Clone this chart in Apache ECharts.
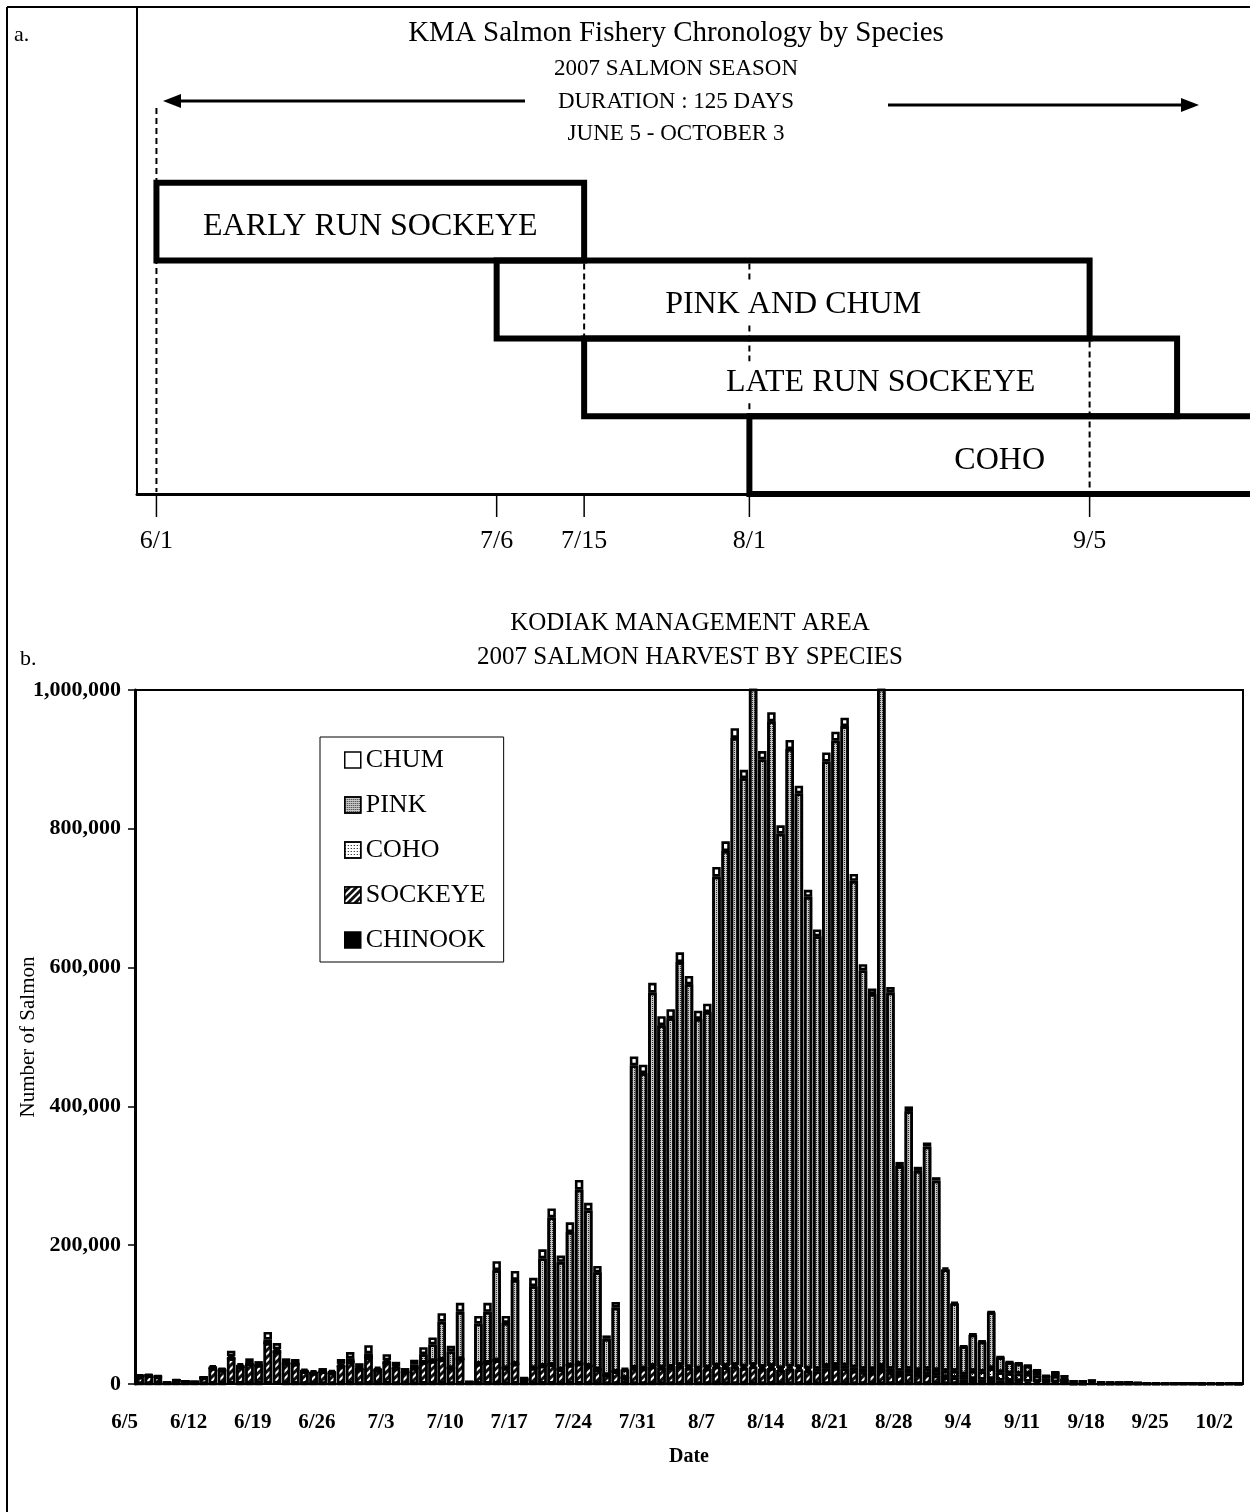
<!DOCTYPE html>
<html><head><meta charset="utf-8">
<script src="https://cdn.jsdelivr.net/npm/echarts@6/dist/echarts.min.js"></script>
<style>html,body{margin:0;padding:0;background:#fff}#c{width:1250px;height:1512px}</style>
</head><body><div id="c"></div>
<script>
// ---------- Panel a: chronology ----------
const chronRows = ['', 'EARLY RUN SOCKEYE', 'PINK AND CHUM', 'LATE RUN SOCKEYE', 'COHO'];
const chronNames = ['EARLY RUN SOCKEYE', 'PINK AND CHUM', 'LATE RUN SOCKEYE', 'COHO'];
const chronStart = ['6/1', '7/6', '7/15', '8/1'];
const chronEnd = ['7/15', '9/5', '9/14', '10/3'];
const chronTicks = ['6/1', '7/6', '7/15', '8/1', '9/5'];
const chronDashDates = ['6/1', '7/15', '8/1', '9/5'];
const chronDashFrom = [0, 2, 2, 3];
const chronDashTo = [4, 2, 3, 4];

// ---------- Panel b: harvest ----------
const dates = [
 '6/5','6/6','6/7','6/8','6/9','6/10','6/11','6/12','6/13','6/14','6/15','6/16','6/17','6/18','6/19','6/20','6/21','6/22','6/23','6/24','6/25','6/26','6/27','6/28','6/29','6/30',
 '7/1','7/2','7/3','7/4','7/5','7/6','7/7','7/8','7/9','7/10','7/11','7/12','7/13','7/14','7/15','7/16','7/17','7/18','7/19','7/20','7/21','7/22','7/23','7/24','7/25','7/26','7/27','7/28','7/29','7/30','7/31',
 '8/1','8/2','8/3','8/4','8/5','8/6','8/7','8/8','8/9','8/10','8/11','8/12','8/13','8/14','8/15','8/16','8/17','8/18','8/19','8/20','8/21','8/22','8/23','8/24','8/25','8/26','8/27','8/28','8/29','8/30','8/31',
 '9/1','9/2','9/3','9/4','9/5','9/6','9/7','9/8','9/9','9/10','9/11','9/12','9/13','9/14','9/15','9/16','9/17','9/18','9/19','9/20','9/21','9/22','9/23','9/24','9/25','9/26','9/27','9/28','9/29','9/30',
 '10/1','10/2','10/3'];
const chinook = [300,300,200,100,200,100,100,300,500,400,
 600,400,500,400,800,600,400,400,300,300,
 300,200,400,400,300,500,200,400,300,200,
 300,400,400,500,300,500,100,400,400,500,
 300,400,100,300,400,400,300,400,400,300,
 300,200,200,100,300,300,300,300,300,300,
 300,200,200,300,300,300,300,300,300,300,
 200,300,300,200,200,300,300,300,200,200,
 200,300,200,100,200,100,100,100,100,100,
 0,0,0,100,0,0,0,0,0,0,
 0,0,0,0,0,0,0,0,0,0,
 0,0,0,0,0,0,0,0,0,0,
 0];
const sockeye = [11000,12000,10500,1700,5000,3400,2600,8700,22500,19600,
 36400,24600,28500,26600,58200,46400,29600,28600,17700,15200,
 17700,15800,25600,31600,21700,37500,19800,30600,22700,17300,
 22700,30600,32600,34500,22700,35500,2400,28600,30600,33500,
 22700,28600,6900,22700,25600,27600,20700,26600,28600,25700,
 20700,12800,17800,8900,22700,21700,24700,22700,23700,25700,
 22700,20800,21800,24700,23700,24700,22700,24700,21700,22700,
 19800,21700,20700,18800,17800,21700,22700,21700,18800,16800,
 15800,19700,15800,12900,14800,12900,13900,11900,9900,8900,
 6000,7000,6000,6900,5000,4500,4000,3500,3000,2000,
 2500,1500,500,500,600,300,200,200,300,100,
 100,100,100,50,100,50,50,50,50,50,
 50];
const coho = [0,0,0,0,0,0,0,0,0,0,
 0,0,0,0,0,0,0,0,0,0,
 0,0,0,0,0,0,0,0,0,0,
 0,0,0,0,0,0,0,0,0,0,
 0,0,0,0,0,0,0,0,0,0,
 0,0,0,0,500,500,1000,1000,1000,1500,
 1500,1500,2000,2000,2000,2500,2500,3000,3000,3000,
 3000,3500,3500,3500,4000,4000,4500,5000,5000,5000,
 5500,6000,6000,6000,7000,7000,8000,8000,9000,10000,
 8000,12000,12000,16000,12000,11000,11000,11000,9000,6000,
 9000,6500,2500,2500,3200,1700,1400,1400,1800,1100,
 700,600,500,500,700,600,400,550,350,450,
 250];
const pink = [500,500,300,0,200,100,0,200,1000,800,
 3000,1500,2000,1500,5000,3000,1500,1500,1000,1000,
 1000,1000,3000,5000,2000,6000,1500,3000,2500,1500,
 5000,12000,24000,55000,24000,68000,300,58000,73000,130000,
 65000,121000,1500,118000,155000,212000,155000,192000,251000,224000,
 140000,52000,92000,12000,435500,425500,538000,493000,502000,580500,
 551500,503500,512000,704000,742000,903500,847500,997000,875000,929000,
 770000,889500,826500,679500,623000,871000,899500,921000,701000,574000,
 540500,982000,542000,295000,371000,287000,320000,273000,146000,97000,
 40000,52000,43000,80000,21500,16000,14500,12000,7700,3800,
 5300,2900,900,900,1100,450,350,400,400,300,
 200,100,100,50,100,50,50,0,0,0,
 0];
const chum = [1200,1200,1000,200,600,400,300,800,3000,2200,
 8000,3500,6000,4500,11000,9000,5500,5500,3000,3500,
 4000,3000,7000,9000,6000,12000,3500,9000,6500,4000,
 7000,10000,10000,12000,8000,13000,200,11000,13000,13000,
 10000,13000,500,12000,13000,13000,9000,14000,14000,11000,
 9000,5000,8000,2000,13000,12000,14000,13000,13000,14000,
 12000,12000,12000,14000,14000,14000,12000,15000,12000,13000,
 12000,13000,11000,10000,10000,13000,13000,12000,10000,9000,
 8000,12000,8000,6000,7000,6000,6000,5000,3000,2000,
 1000,1000,1000,1000,500,500,500,500,300,200,
 200,100,100,100,100,50,50,0,0,0,
 0,0,0,0,0,0,0,0,0,0,
 0];
const legendOrder = ['CHUM', 'PINK', 'COHO', 'SOCKEYE', 'CHINOOK'];
const yMax = 1000000, yStep = 200000;

// ---------- helpers ----------
const SERIF = '"Liberation Serif", "Times New Roman", serif';
const BOX_FONT = '32px ' + SERIF;
const CHAR_W = 19;
function dayOf(md) {
  const p = md.split('/').map(Number);
  return (Date.UTC(2007, p[0] - 1, p[1]) - Date.UTC(2007, 5, 1)) / 86400000;
}
function commas(v) { return String(v).replace(/\B(?=(\d{3})+(?!\d))/g, ','); }
// centre of a box's visible label, in pixels
function labelCenter(api, cs, i) {
  const r = chronRows.indexOf(chronNames[i]);
  const a = api.coord([dayOf(chronStart[i]), r]);
  const bx = Math.min(api.coord([dayOf(chronEnd[i]), r])[0], cs.x + cs.width);
  return [(a[0] + bx) / 2, a[1] + 5];
}

const chart = echarts.init(document.getElementById('c'), null, { renderer: 'canvas' });

const boxData = chronNames.map((n, i) => ({ name: n, value: [dayOf(chronStart[i]), dayOf(chronEnd[i]), chronRows.indexOf(n)] }));
const dashData = chronDashDates.map((d, i) => [dayOf(d), chronDashFrom[i], chronDashTo[i]]);
const tickData = chronTicks.map(d => [dayOf(d), chronRows.length - 1]);

const barBase = { type: 'bar', stack: 'all', xAxisIndex: 1, yAxisIndex: 1, barCategoryGap: '8%', animation: false };
const BW = 2.6;

const option = {
  backgroundColor: '#fff',
  animation: false,
  legend: {
    data: legendOrder, orient: 'vertical', left: 320, top: 737,
    itemWidth: 16, itemHeight: 16, itemGap: 19, icon: 'rect',
    itemStyle: { borderWidth: 1.5 },
    textStyle: { fontFamily: SERIF, fontSize: 26, color: '#000', lineHeight: 26 },
    borderColor: '#000', borderWidth: 1, padding: [10, 18, 9, 24], backgroundColor: '#fff',
    selectedMode: false
  },
  grid: [
    { left: 137, right: 0, top: 105, height: 389, outerBoundsMode: 'none', containLabel: false },
    { left: 135, right: 7, top: 690, height: 694, show: true, borderColor: '#000', borderWidth: 2, outerBoundsMode: 'none', containLabel: false }
  ],
  xAxis: [
    { type: 'value', gridIndex: 0, min: -2, max: 112.5,
      axisLine: { show: true, onZero: false, lineStyle: { color: '#000', width: 3 } },
      axisTick: { show: false }, axisLabel: { show: false }, splitLine: { show: false } },
    { type: 'category', gridIndex: 1, data: dates, boundaryGap: true,
      axisLine: { lineStyle: { color: '#000', width: 2 } },
      axisTick: { interval: 6, alignWithLabel: false, length: 7, lineStyle: { color: '#000', width: 1.5 } },
      axisLabel: { interval: 6, color: '#000', fontFamily: SERIF, fontWeight: 'bold', fontSize: 21, margin: 28, padding: [0, 30, 0, 0] },
      name: 'Date', nameLocation: 'middle', nameGap: 63, nameMoveOverlap: false,
      nameTextStyle: { color: '#000', fontFamily: SERIF, fontWeight: 'bold', fontSize: 20 } }
  ],
  yAxis: [
    { type: 'category', gridIndex: 0, data: chronRows, inverse: true,
      axisLine: { show: false }, axisTick: { show: false }, axisLabel: { show: false }, splitLine: { show: false } },
    { type: 'value', gridIndex: 1, min: 0, max: yMax, interval: yStep,
      axisLine: { show: true, lineStyle: { color: '#000', width: 3 } },
      axisTick: { show: true, length: 7, lineStyle: { color: '#000', width: 1.5 } },
      splitLine: { show: false },
      axisLabel: { color: '#000', fontFamily: SERIF, fontWeight: 'bold', fontSize: 22, margin: 14, formatter: v => commas(v) },
      name: 'Number of Salmon', nameLocation: 'middle', nameGap: 96, nameRotate: 90, nameMoveOverlap: false,
      nameTextStyle: { color: '#000', fontFamily: SERIF, fontSize: 21 } }
  ],
  series: [
    { type: 'custom', name: 'dashes', xAxisIndex: 0, yAxisIndex: 0, data: dashData, z: 1,
      renderItem: function (params, api) {
        const d = api.value(0), r1 = api.value(1), r2 = api.value(2);
        const h = api.size([0, 1])[1];
        const cs = params.coordSys;
        const x = api.coord([d, r1])[0];
        const segs = [];
        let yStart = api.coord([d, r1])[1] - h / 2 + 3;
        for (let r = r1; r <= r2; r++) {
          const i = chronNames.indexOf(chronRows[r]);
          if (i < 0) continue;
          const c = labelCenter(api, cs, i);
          const half = chronNames[i].length * CHAR_W / 2 + 4;
          if (Math.abs(x - c[0]) < half) {
            segs.push([yStart, c[1] - 21]);
            yStart = c[1] + 21;
          }
        }
        segs.push([yStart, api.coord([d, r2])[1] + h / 2 - 2]);
        return { type: 'group', children: segs.map(s => ({ type: 'line',
          shape: { x1: x, y1: s[0], x2: x, y2: s[1] },
          style: { stroke: '#000', lineWidth: 2, lineDash: [6, 4] } })) };
      } },
    { type: 'custom', name: 'boxes', xAxisIndex: 0, yAxisIndex: 0, data: boxData, z: 5,
      encode: { x: [0, 1], y: 2 },
      renderItem: function (params, api) {
        const s = api.value(0), e = api.value(1), r = api.value(2);
        const a = api.coord([s, r]), b = api.coord([e, r]);
        const h = api.size([0, 1])[1];
        const c = labelCenter(api, params.coordSys, params.dataIndex);
        return { type: 'group', children: [
          { type: 'rect', shape: { x: a[0], y: a[1] - h / 2, width: b[0] - a[0], height: h },
            style: { fill: 'none', stroke: '#000', lineWidth: 6 } },
          { type: 'text', x: c[0], y: c[1],
            style: { text: chronNames[params.dataIndex], fill: '#000', font: BOX_FONT, align: 'center', verticalAlign: 'middle' } }
        ] };
      } },
    { type: 'custom', name: 'chronTicks', xAxisIndex: 0, yAxisIndex: 0, data: tickData, z: 2,
      renderItem: function (params, api) {
        const p = api.coord([api.value(0), api.value(1)]);
        const h = api.size([0, 1])[1];
        const y0 = p[1] + h / 2;
        return { type: 'group', children: [
          { type: 'line', shape: { x1: p[0], y1: y0, x2: p[0], y2: y0 + 23 }, style: { stroke: '#000', lineWidth: 1.5 } },
          { type: 'text', x: p[0], y: y0 + 47,
            style: { text: chronTicks[params.dataIndex], fill: '#000', font: '26px ' + SERIF, align: 'center', verticalAlign: 'middle' } }
        ] };
      } },
    Object.assign({}, barBase, { name: 'CHINOOK', data: chinook,
      itemStyle: { color: '#000', borderColor: '#000', borderWidth: BW } }),
    Object.assign({}, barBase, { name: 'SOCKEYE', data: sockeye,
      itemStyle: { color: '#111', borderColor: '#000', borderWidth: BW,
        decal: { symbol: 'rect', symbolSize: 1, dashArrayX: [1, 0], dashArrayY: [2, 3], rotation: -Math.PI / 4, color: '#fff' } } }),
    Object.assign({}, barBase, { name: 'COHO', data: coho,
      itemStyle: { color: '#fff', borderColor: '#000', borderWidth: BW,
        decal: { symbol: 'rect', symbolSize: 1, dashArrayX: [1, 2], dashArrayY: [1, 2], color: '#000' } } }),
    Object.assign({}, barBase, { name: 'PINK', data: pink,
      itemStyle: { color: '#c8c8c8', borderColor: '#000', borderWidth: BW,
        decal: { symbol: 'rect', symbolSize: 1, dashArrayX: [1, 1], dashArrayY: [1, 1], color: '#333' } } }),
    Object.assign({}, barBase, { name: 'CHUM', data: chum,
      itemStyle: { color: '#fff', borderColor: '#000', borderWidth: BW } })
  ],
  graphic: [
    { type: 'line', shape: { x1: 7, y1: 7, x2: 1250, y2: 7 }, style: { stroke: '#000', lineWidth: 2 } },
    { type: 'line', shape: { x1: 7, y1: 7, x2: 7, y2: 1512 }, style: { stroke: '#000', lineWidth: 2 } },
    { type: 'line', shape: { x1: 137, y1: 7, x2: 137, y2: 494 }, style: { stroke: '#000', lineWidth: 2 } },
    { type: 'text', x: 14, y: 24, style: { text: 'a.', fill: '#000', font: '22px ' + SERIF } },
    { type: 'text', x: 676, y: 33, style: { text: 'KMA Salmon Fishery Chronology by Species', fill: '#000', font: '29px ' + SERIF, align: 'center', verticalAlign: 'middle' } },
    { type: 'text', x: 676, y: 69, style: { text: '2007 SALMON SEASON', fill: '#000', font: '23px ' + SERIF, align: 'center', verticalAlign: 'middle' } },
    { type: 'text', x: 676, y: 102, style: { text: 'DURATION : 125 DAYS', fill: '#000', font: '23px ' + SERIF, align: 'center', verticalAlign: 'middle' } },
    { type: 'text', x: 676, y: 134, style: { text: 'JUNE 5 - OCTOBER 3', fill: '#000', font: '23px ' + SERIF, align: 'center', verticalAlign: 'middle' } },
    { type: 'line', shape: { x1: 525, y1: 101, x2: 176, y2: 101 }, style: { stroke: '#000', lineWidth: 3 } },
    { type: 'polygon', shape: { points: [[163, 101], [181, 94], [181, 108]] }, style: { fill: '#000' } },
    { type: 'line', shape: { x1: 888, y1: 105, x2: 1186, y2: 105 }, style: { stroke: '#000', lineWidth: 3 } },
    { type: 'polygon', shape: { points: [[1199, 105], [1181, 98], [1181, 112]] }, style: { fill: '#000' } },
    { type: 'text', x: 690, y: 623, style: { text: 'KODIAK MANAGEMENT AREA', fill: '#000', font: '25px ' + SERIF, align: 'center', verticalAlign: 'middle' } },
    { type: 'text', x: 690, y: 657, style: { text: '2007 SALMON HARVEST BY SPECIES', fill: '#000', font: '25px ' + SERIF, align: 'center', verticalAlign: 'middle' } },
    { type: 'text', x: 20, y: 648, style: { text: 'b.', fill: '#000', font: '22px ' + SERIF } }
  ]
};
chart.setOption(option);
</script>
</body></html>
